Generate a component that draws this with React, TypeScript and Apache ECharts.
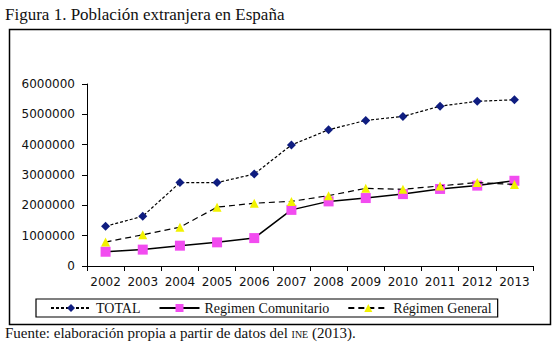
import React, { useEffect, useRef } from "react";
import * as echarts from "echarts";

const years = ["2002", "2003", "2004", "2005", "2006", "2007", "2008", "2009", "2010", "2011", "2012", "2013"];
const total = [1310000, 1640000, 2750000, 2750000, 3030000, 3990000, 4490000, 4800000, 4930000, 5270000, 5430000, 5480000];
const comunitario = [470000, 540000, 670000, 780000, 920000, 1850000, 2130000, 2240000, 2370000, 2540000, 2650000, 2810000];
const general = [790000, 1030000, 1280000, 1940000, 2070000, 2130000, 2320000, 2560000, 2530000, 2640000, 2750000, 2690000];

const serifStack = "'Liberation Serif', 'Times New Roman', serif";
const serif = "Liberation Serif";
const sans = "DejaVu Sans";

function measure(text: string, font: string): number {
  const c = document.createElement("canvas").getContext("2d");
  if (!c) return text.length * 6;
  c.font = font;
  return c.measureText(text).width;
}

export default function App() {
  const ref = useRef<HTMLDivElement>(null);
  useEffect(() => {
    if (!ref.current) return;
    const chart = echarts.init(ref.current, null, { renderer: "svg" });
    const f1 = `15px ${serifStack}`;
    const f2 = `10px ${serifStack}`;
    const t1 = "Fuente: elaboración propia a partir de datos del ";
    const t2 = "INE";
    const t3 = " (2013).";
    const w1 = measure(t1, f1);
    const w2 = measure(t2, f2);
    chart.setOption({
      animation: false,
      backgroundColor: "#ffffff",
      grid: { left: 87, right: 26, top: 84, bottom: 84 },
      graphic: [
        {
          type: "rect",
          shape: { x: 9.5, y: 29.5, width: 541, height: 295 },
          style: { fill: "none", stroke: "#000", lineWidth: 1.5 },
          z: 0,
        },
        {
          type: "text",
          x: 5,
          y: 14,
          style: { text: "Figura 1. Población extranjera en España", font: `17px ${serifStack}`, fill: "#111", textVerticalAlign: "middle" },
        },
        {
          type: "text",
          x: 5,
          y: 333,
          style: { text: t1, font: f1, fill: "#111", textVerticalAlign: "middle" },
        },
        {
          type: "text",
          x: 5 + w1,
          y: 334.5,
          style: { text: t2, font: f2, fill: "#111", textVerticalAlign: "middle" },
        },
        {
          type: "text",
          x: 5 + w1 + w2,
          y: 333,
          style: { text: t3, font: f1, fill: "#111", textVerticalAlign: "middle" },
        },
      ],
      legend: {
        left: 36,
        top: 299,
        padding: [2, 6, 2, 14],
        itemGap: 18,
        itemWidth: 40,
        itemHeight: 10,
        borderColor: "#000",
        borderWidth: 1.2,
        textStyle: { fontFamily: serif, fontSize: 14, color: "#111" },
        data: ["TOTAL", "Regimen Comunitario", "Régimen General"],
      },
      xAxis: {
        type: "category",
        data: years,
        boundaryGap: true,
        axisLine: { lineStyle: { color: "#000", width: 1 } },
        axisTick: { show: true, length: 5, lineStyle: { color: "#000" } },
        axisLabel: { interval: 0, hideOverlap: false, fontFamily: sans, fontSize: 12, color: "#111", margin: 10 },
        splitLine: { show: false },
      },
      yAxis: {
        type: "value",
        min: 0,
        max: 6000000,
        interval: 1000000,
        axisLine: { show: true, lineStyle: { color: "#000", width: 1 } },
        axisTick: { show: true, length: 5, lineStyle: { color: "#000" } },
        axisLabel: { fontFamily: sans, fontSize: 12, color: "#111", margin: 12, formatter: (v: number) => String(v) },
        splitLine: { show: false },
      },
      series: [
        {
          name: "TOTAL",
          type: "line",
          data: total,
          symbol: "diamond",
          symbolSize: 9,
          itemStyle: { color: "#0f1d80" },
          lineStyle: { color: "#000", width: 1.2, type: [3, 2] },
          z: 3,
        },
        {
          name: "Regimen Comunitario",
          type: "line",
          data: comunitario,
          symbol: "rect",
          symbolSize: 10,
          itemStyle: { color: "#f24cf0" },
          lineStyle: { color: "#000", width: 1.5, type: "solid" },
          z: 2,
        },
        {
          name: "Régimen General",
          type: "line",
          data: general,
          symbol: "triangle",
          symbolSize: 9,
          itemStyle: { color: "#f2f200" },
          lineStyle: { color: "#000", width: 1.2, type: [6, 4] },
          z: 4,
        },
      ],
    });
    return () => chart.dispose();
  }, []);
  return (
    <div
      ref={ref}
      style={{ position: "fixed", left: 0, top: 0, width: 559, height: 350, background: "#fff" }}
    />
  );
}
